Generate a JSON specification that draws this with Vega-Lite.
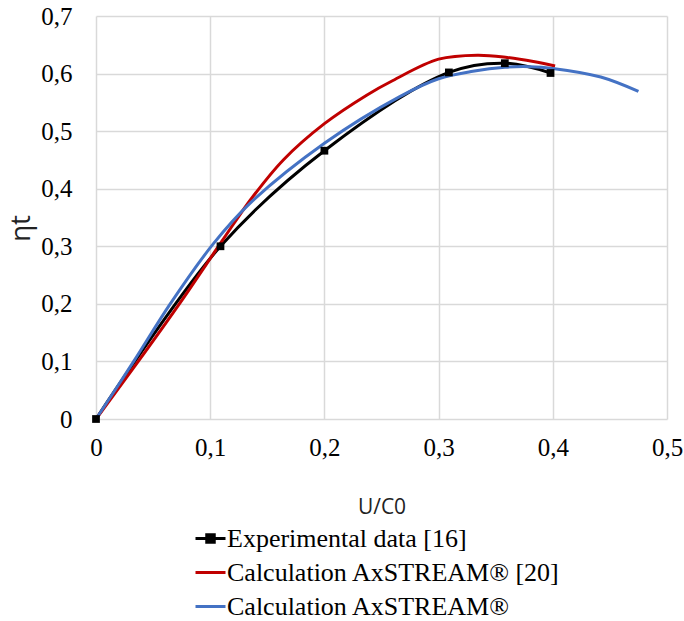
{
  "$schema": "https://vega.github.io/schema/vega-lite/v6.json",
  "width": 571,
  "height": 403,
  "autosize": {"type": "none"},
  "padding": {"left": 96, "top": 16, "right": 17, "bottom": 202},
  "background": "white",
  "config": {
    "view": {"stroke": null},
    "axis": {"labelFont": "Liberation Serif"},
    "legend": {"labelFont": "Liberation Serif"}
  },
  "data": {
    "values": [
      {"series": "Experimental data [16]", "u": 0, "eta": 0},
      {"series": "Experimental data [16]", "u": 0.109, "eta": 0.3},
      {"series": "Experimental data [16]", "u": 0.2, "eta": 0.466},
      {"series": "Experimental data [16]", "u": 0.309, "eta": 0.602},
      {"series": "Experimental data [16]", "u": 0.358, "eta": 0.618},
      {"series": "Experimental data [16]", "u": 0.398, "eta": 0.601},
      {"series": "Calculation AxSTREAM® [20]", "u": 0, "eta": 0},
      {"series": "Calculation AxSTREAM® [20]", "u": 0.037, "eta": 0.1},
      {"series": "Calculation AxSTREAM® [20]", "u": 0.073, "eta": 0.2},
      {"series": "Calculation AxSTREAM® [20]", "u": 0.111, "eta": 0.311},
      {"series": "Calculation AxSTREAM® [20]", "u": 0.135, "eta": 0.38},
      {"series": "Calculation AxSTREAM® [20]", "u": 0.164, "eta": 0.45},
      {"series": "Calculation AxSTREAM® [20]", "u": 0.2, "eta": 0.513},
      {"series": "Calculation AxSTREAM® [20]", "u": 0.237, "eta": 0.5625},
      {"series": "Calculation AxSTREAM® [20]", "u": 0.26, "eta": 0.588},
      {"series": "Calculation AxSTREAM® [20]", "u": 0.3, "eta": 0.625},
      {"series": "Calculation AxSTREAM® [20]", "u": 0.334, "eta": 0.632},
      {"series": "Calculation AxSTREAM® [20]", "u": 0.36, "eta": 0.628},
      {"series": "Calculation AxSTREAM® [20]", "u": 0.383, "eta": 0.621},
      {"series": "Calculation AxSTREAM® [20]", "u": 0.402, "eta": 0.613},
      {"series": "Calculation AxSTREAM®", "u": 0, "eta": 0},
      {"series": "Calculation AxSTREAM®", "u": 0.033, "eta": 0.1},
      {"series": "Calculation AxSTREAM®", "u": 0.065, "eta": 0.2},
      {"series": "Calculation AxSTREAM®", "u": 0.103, "eta": 0.305},
      {"series": "Calculation AxSTREAM®", "u": 0.135, "eta": 0.375},
      {"series": "Calculation AxSTREAM®", "u": 0.2, "eta": 0.479},
      {"series": "Calculation AxSTREAM®", "u": 0.266, "eta": 0.56},
      {"series": "Calculation AxSTREAM®", "u": 0.3, "eta": 0.591},
      {"series": "Calculation AxSTREAM®", "u": 0.33, "eta": 0.604},
      {"series": "Calculation AxSTREAM®", "u": 0.358, "eta": 0.611},
      {"series": "Calculation AxSTREAM®", "u": 0.38, "eta": 0.612},
      {"series": "Calculation AxSTREAM®", "u": 0.4, "eta": 0.609},
      {"series": "Calculation AxSTREAM®", "u": 0.442, "eta": 0.594},
      {"series": "Calculation AxSTREAM®", "u": 0.475, "eta": 0.569}
    ]
  },
  "layer": [
    {
      "mark": {"type": "line", "interpolate": "catmull-rom", "strokeWidth": 3},
      "encoding": {
        "x": {
          "field": "u",
          "type": "quantitative",
          "scale": {"domain": [0, 0.5], "nice": false},
          "axis": {
            "title": "U/C0",
            "values": [0, 0.1, 0.2, 0.3, 0.4, 0.5],
            "labelExpr": "datum.value == 0 ? '0' : replace(format(datum.value, '.1f'), '.', ',')",
            "labelFont": "Liberation Serif",
            "labelFontSize": 25,
            "labelColor": "black",
            "labelPadding": 16,
            "labelFlush": false,
            "ticks": false,
            "domain": false,
            "grid": true,
            "gridColor": "#d9d9d9",
            "gridWidth": 1.5,
            "titleFont": "Open Sans",
            "titleFontSize": 21,
            "titleFontWeight": "normal",
            "titleColor": "#222222",
            "titleY": 94,
            "titleBaseline": "alphabetic"
          }
        },
        "y": {
          "field": "eta",
          "type": "quantitative",
          "scale": {"domain": [0, 0.7], "nice": false},
          "axis": {
            "title": "ηt",
            "values": [0, 0.1, 0.2, 0.3, 0.4, 0.5, 0.6, 0.7],
            "labelExpr": "datum.value == 0 ? '0' : replace(format(datum.value, '.1f'), '.', ',')",
            "labelFont": "Liberation Serif",
            "labelFontSize": 25,
            "labelColor": "black",
            "labelPadding": 24,
            "labelFlush": false,
            "ticks": false,
            "domain": false,
            "grid": true,
            "gridColor": "#d9d9d9",
            "gridWidth": 1.5,
            "titleFont": "Open Sans",
            "titleFontSize": 28,
            "titleFontWeight": "normal",
            "titleColor": "#222222",
            "titleX": -75,
            "titleY": 212,
            "titleAngle": -90,
            "titleAlign": "center",
            "titleBaseline": "middle"
          }
        },
        "color": {
          "field": "series",
          "type": "nominal",
          "sort": ["Experimental data [16]", "Calculation AxSTREAM® [20]", "Calculation AxSTREAM®"],
          "scale": {
            "domain": ["Experimental data [16]", "Calculation AxSTREAM® [20]", "Calculation AxSTREAM®"],
            "range": ["#000000", "#C00000", "#4472C4"]
          },
          "legend": {
            "orient": "none",
            "legendX": 98,
            "legendY": 506,
            "title": null,
            "labelFont": "Liberation Serif",
            "labelFontSize": 26,
            "labelColor": "black",
            "labelLimit": 500,
            "symbolType": "stroke",
            "symbolSize": 900,
            "symbolStrokeWidth": 3,
            "labelOffset": 0,
            "rowPadding": 4,
            "encode": {
              "symbols": {
                "update": {
                  "shape": {"signal": "datum.value === 'Experimental data [16]' ? 'M-1,0L1,0M-0.25,-0.25L0.25,-0.25L0.25,0.25L-0.25,0.25Z' : 'stroke'"},
                  "fill": {"signal": "datum.value === 'Experimental data [16]' ? 'black' : 'transparent'"}
                }
              }
            }
          }
        }
      }
    },
    {
      "transform": [{"filter": "datum.series === 'Experimental data [16]'"}],
      "mark": {"type": "point", "shape": "square", "filled": true, "color": "black", "size": 60, "opacity": 1},
      "encoding": {
        "x": {"field": "u", "type": "quantitative"},
        "y": {"field": "eta", "type": "quantitative"}
      }
    }
  ]
}
